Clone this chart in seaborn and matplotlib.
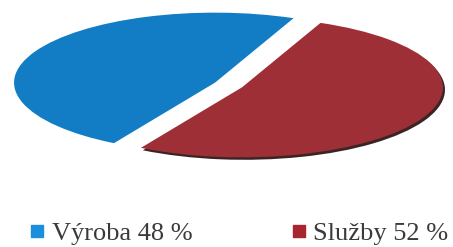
import matplotlib
matplotlib.use("Agg")
import matplotlib.pyplot as plt
from matplotlib.lines import Line2D
import seaborn as sns

categories = ["Výroba", "Služby"]
values = [48, 52]
colors = ["#127dc4", "#9e2f36"]
legend_colors = ["#1b8fdc", "#a8262e"]
shadow_colors = ["none", "#3b2426"]

sns.set_theme(style="white")
plt.rcParams['font.family'] = ['Liberation Serif', 'DejaVu Serif']

fig = plt.figure(figsize=(4.53, 2.47), dpi=100)
ax = fig.add_axes([0, 0, 1, 1])

explode = [0.075, 0.075]
# thin dark "thickness" edge under the slices
ax.pie(values, colors=shadow_colors, startangle=67, counterclock=True,
       explode=explode, center=(0.01, -0.035), wedgeprops=dict(linewidth=0))
ax.pie(values, colors=colors, startangle=67, counterclock=True,
       explode=explode, wedgeprops=dict(linewidth=0))

ax.set_aspect('auto')
ax.set_xlim(-1.137, 1.117)
ax.set_ylim(-2.314, 1.214)
ax.axis('off')

labels = [f"{c} {v} %" for c, v in zip(categories, values)]
anchors = [0.068, 0.645]
for lab, col, xa in zip(labels, legend_colors, anchors):
    h = Line2D([0], [0], marker='s', linestyle='none', markersize=8,
               markerfacecolor=col, markeredgecolor=col)
    fig.legend([h], [lab], loc='center left', bbox_to_anchor=(xa, 0.055),
               frameon=False, fontsize=19, handletextpad=0.3, borderpad=0,
               borderaxespad=0, handlelength=0.5, labelcolor='#3a3a3a')

fig.savefig("out.png", dpi=100, facecolor='white')
